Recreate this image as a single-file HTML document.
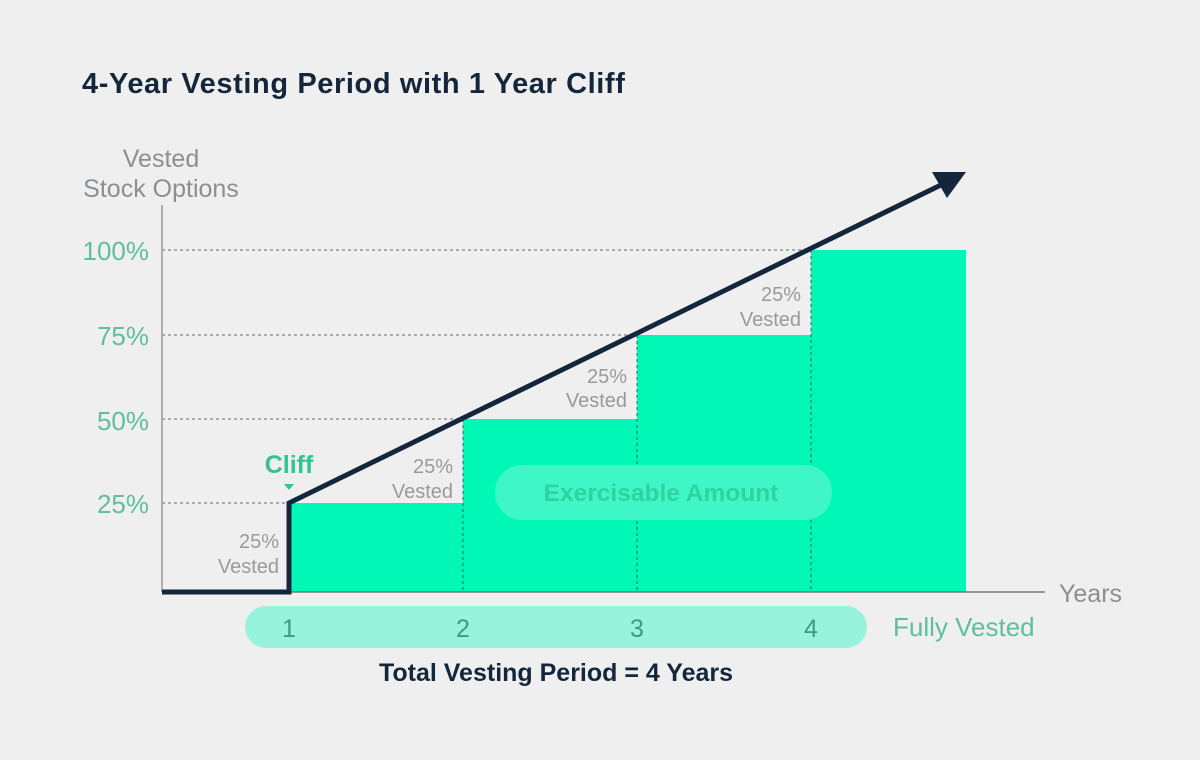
<!DOCTYPE html>
<html><head><style>
body{margin:0;background:#efefef;}
svg{display:block;font-family:"Liberation Sans",sans-serif;}
</style></head><body>
<svg width="1200" height="760" viewBox="0 0 1200 760">
<rect width="1200" height="760" fill="#efefef"/>
<text x="82" y="93" font-size="29" font-weight="bold" fill="#14263b" letter-spacing="0.6">4-Year Vesting Period with 1 Year Cliff</text>
<text x="161" y="167" font-size="25" fill="#8b8f93" text-anchor="middle">Vested</text>
<text x="161" y="197" font-size="25" fill="#8b8f93" text-anchor="middle">Stock Options</text>
<g font-size="26" fill="#5fbf9c" text-anchor="end">
<text x="149" y="260">100%</text><text x="149" y="345">75%</text>
<text x="149" y="430">50%</text><text x="149" y="513">25%</text>
</g>
<g stroke="#666" stroke-width="1" stroke-dasharray="3,3">
<line x1="162" y1="250" x2="811" y2="250"/><line x1="162" y1="335" x2="637" y2="335"/>
<line x1="162" y1="419" x2="463" y2="419"/><line x1="162" y1="503" x2="289" y2="503"/>
</g>
<rect x="289" y="503" width="174" height="89" fill="#00f7b6"/>
<rect x="463" y="419" width="174" height="173" fill="#00f7b6"/>
<rect x="637" y="335" width="174" height="257" fill="#00f7b6"/>
<rect x="811" y="250" width="155" height="342" fill="#00f7b6"/>
<g stroke="#3a6a5a" stroke-width="1" stroke-dasharray="3,3">
<line x1="463" y1="419" x2="463" y2="592"/><line x1="637" y1="335" x2="637" y2="592"/><line x1="811" y1="250" x2="811" y2="592"/>
</g>
<rect x="495" y="465" width="337" height="55" rx="27" fill="#3ff6c6"/>
<text x="661" y="501" font-size="24.5" font-weight="bold" fill="#2fd3a0" text-anchor="middle">Exercisable Amount</text>
<line x1="162" y1="205" x2="162" y2="592" stroke="#999" stroke-width="1.5"/>
<line x1="162" y1="592" x2="1045" y2="592" stroke="#777" stroke-width="1.5"/>
<polyline points="162,592 289,592 289,503 945,183" fill="none" stroke="#14263b" stroke-width="5"/>
<polygon points="932,172 966,172 947,198" fill="#14263b"/>
<text x="289" y="473" font-size="25" font-weight="bold" fill="#2ec592" text-anchor="middle">Cliff</text>
<polygon points="284,484 294,484 289,490" fill="#2ec592"/>
<g font-size="20" fill="#9a9a9a" text-anchor="end">
<text x="279" y="548">25%</text><text x="279" y="573">Vested</text>
<text x="453" y="473">25%</text><text x="453" y="498">Vested</text>
<text x="627" y="383">25%</text><text x="627" y="407">Vested</text>
<text x="801" y="301">25%</text><text x="801" y="326">Vested</text>
</g>
<text x="1059" y="602" font-size="25" fill="#8b8f93">Years</text>
<rect x="245" y="606" width="622" height="42" rx="21" fill="#98f3dd"/>
<g font-size="25" fill="#3f9a7f" text-anchor="middle">
<text x="289" y="637">1</text><text x="463" y="637">2</text><text x="637" y="637">3</text><text x="811" y="637">4</text>
</g>
<text x="893" y="636" font-size="26" fill="#5fbf9c">Fully Vested</text>
<text x="556" y="681" font-size="25" font-weight="bold" fill="#14263b" text-anchor="middle">Total Vesting Period = 4 Years</text>
</svg>
</body></html>
